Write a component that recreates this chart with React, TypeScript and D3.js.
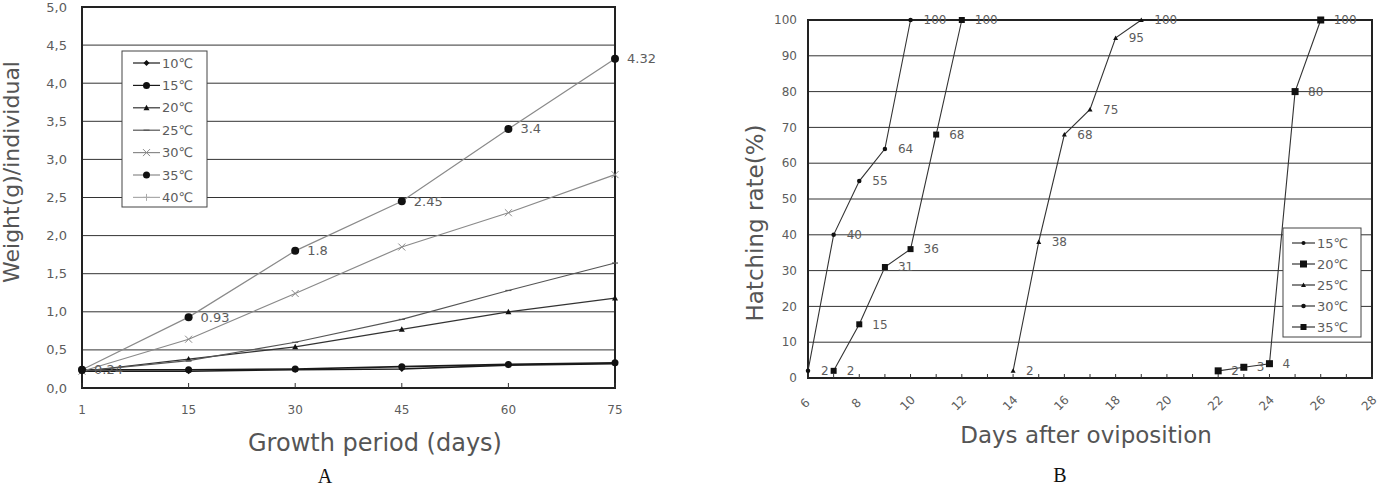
import React from 'react'
import * as d3 from 'd3'

// chart A: growth
const growthDays = ['1', '15', '30', '45', '60', '75']
const w10 = [0.22, 0.22, 0.24, 0.25, 0.30, 0.32]
const w15 = [0.24, 0.24, 0.25, 0.28, 0.31, 0.33]
const w20 = [0.22, 0.38, 0.54, 0.77, 1.0, 1.18]
const w25 = [0.22, 0.36, 0.60, 0.90, 1.28, 1.64]
const w30 = [0.22, 0.64, 1.24, 1.85, 2.30, 2.80]
const w35 = [0.24, 0.93, 1.8, 2.45, 3.4, 4.32]
const w40: number[] = []
const weightTicks = [0, 0.5, 1, 1.5, 2, 2.5, 3, 3.5, 4, 4.5, 5]

// chart B: hatching
const days30 = [6, 7, 8, 9, 10]
const hatch30 = [2, 40, 55, 64, 100]
const days35 = [7, 8, 9, 10, 11, 12]
const hatch35 = [2, 15, 31, 36, 68, 100]
const days25 = [14, 15, 16, 17, 18, 19]
const hatch25 = [2, 38, 68, 75, 95, 100]
const days20 = [22, 23, 24, 25, 26]
const hatch20 = [2, 3, 4, 80, 100]
const days15: number[] = []
const hatch15: number[] = []
const hatchTicks = [0, 10, 20, 30, 40, 50, 60, 70, 80, 90, 100]
const dayTicks = d3.range(6, 29)

const FONT = '"DejaVu Sans", "Noto Sans CJK KR", sans-serif'
const GREY = '#5c5c5c'

type Mk = 'diamond' | 'dot' | 'triangle' | 'dash' | 'x' | 'plus' | 'square' | 'none'

function Marker({ type, x, y, size, color }: { type: Mk; x: number; y: number; size: number; color: string }) {
  const s = size / 2
  if (type === 'dot') return <circle cx={x} cy={y} r={s} fill={color} />
  if (type === 'diamond') return <path d={`M${x},${y - s}L${x + s},${y}L${x},${y + s}L${x - s},${y}Z`} fill={color} />
  if (type === 'triangle') return <path d={`M${x},${y - s}L${x + s},${y + s * 0.8}L${x - s},${y + s * 0.8}Z`} fill={color} />
  if (type === 'square') return <rect x={x - s} y={y - s} width={size} height={size} fill={color} />
  if (type === 'dash') return <path d={`M${x - s},${y}L${x + s},${y}`} stroke={color} strokeWidth={1.2} />
  if (type === 'x') return <path d={`M${x - s},${y - s}L${x + s},${y + s}M${x - s},${y + s}L${x + s},${y - s}`} stroke={color} strokeWidth={1} />
  if (type === 'plus') return <path d={`M${x - s},${y}L${x + s},${y}M${x},${y - s}L${x},${y + s}`} stroke={color} strokeWidth={1} />
  return null
}

function ChartA() {
  const left = 82, right = 615, top = 7, bottom = 388
  const x = d3.scalePoint<string>().domain(growthDays).range([left, right])
  const y = d3.scaleLinear().domain([0, 5]).range([bottom, top])
  const series = [
    { name: '10℃', vals: w10, line: '#1a1a1a', mk: 'diamond' as Mk, mc: '#111', ms: 6, lw: 1.6 },
    { name: '15℃', vals: w15, line: '#1a1a1a', mk: 'dot' as Mk, mc: '#111', ms: 7, lw: 1.6 },
    { name: '20℃', vals: w20, line: '#333', mk: 'triangle' as Mk, mc: '#111', ms: 6, lw: 1.2 },
    { name: '25℃', vals: w25, line: '#555', mk: 'dash' as Mk, mc: '#555', ms: 6, lw: 1.2 },
    { name: '30℃', vals: w30, line: '#8a8a8a', mk: 'x' as Mk, mc: '#8a8a8a', ms: 7, lw: 1.2 },
    { name: '35℃', vals: w35, line: '#8a8a8a', mk: 'dot' as Mk, mc: '#111', ms: 8, lw: 1.2 },
    { name: '40℃', vals: w40, line: '#aaa', mk: 'plus' as Mk, mc: '#aaa', ms: 7, lw: 1.2 },
  ]
  const line = d3.line<number>().x((_, i) => x(growthDays[i]) as number).y(d => y(d))
  return (
    <g fontFamily={FONT}>
      {weightTicks.map(t => (
        <g key={t}>
          <line x1={left} x2={right} y1={y(t)} y2={y(t)} stroke="#333" strokeWidth={1} />
          <text x={left - 15} y={y(t)} dy="0.35em" textAnchor="end" fontSize={13} fill={GREY}>
            {t.toFixed(1).replace('.', ',')}
          </text>
        </g>
      ))}
      <rect x={left} y={top} width={right - left} height={bottom - top} fill="none" stroke="#222" strokeWidth={2} />
      {growthDays.map(d => (
        <g key={d}>
          <line x1={x(d)} x2={x(d)} y1={bottom} y2={bottom - 5} stroke="#333" />
          <text x={x(d)} y={410} dy="0.35em" textAnchor="middle" fontSize={12} fill={GREY}>{d}</text>
        </g>
      ))}
      {series.map(s => (
        <g key={s.name}>
          <path d={line(s.vals) || ''} fill="none" stroke={s.line} strokeWidth={s.lw} />
          {s.vals.map((v, i) => (
            <Marker key={i} type={s.mk} x={x(growthDays[i]) as number} y={y(v)} size={s.ms} color={s.mc} />
          ))}
        </g>
      ))}
      {w35.map((v, i) => (
        <text key={i} x={(x(growthDays[i]) as number) + 12} y={y(v)} dy="0.35em" fontSize={13} fill={GREY}>{String(v)}</text>
      ))}
      <rect x={122} y={51} width={85} height={156} fill="#fff" stroke="#444" strokeWidth={1} />
      {series.map((s, i) => {
        const ly = 63 + i * 22.4
        return (
          <g key={s.name}>
            <line x1={133} x2={160} y1={ly} y2={ly} stroke={s.line} strokeWidth={1.2} />
            <Marker type={s.mk} x={146.5} y={ly} size={Math.min(s.ms, 7)} color={s.mc} />
            <text x={162} y={ly} dy="0.35em" fontSize={13} fill={GREY}>{s.name}</text>
          </g>
        )
      })}
      <text transform="translate(19,172) rotate(-90)" textAnchor="middle" fontSize={22} fill="#555">Weight(g)/individual</text>
      <text x={375} y={451} textAnchor="middle" fontSize={24} fill="#555">Growth period (days)</text>
      <text x={325} y={483} textAnchor="middle" fontSize={20} fontFamily='"Liberation Serif", serif' fill="#111">A</text>
    </g>
  )
}

function ChartB() {
  const left = 808, right = 1372, top = 20, bottom = 378
  const x = d3.scaleLinear().domain([6, 28]).range([left, right])
  const y = d3.scaleLinear().domain([0, 100]).range([bottom, top])
  const series = [
    { name: '15℃', xs: days15, vals: hatch15, mk: 'dot' as Mk, ms: 4 },
    { name: '20℃', xs: days20, vals: hatch20, mk: 'square' as Mk, ms: 7 },
    { name: '25℃', xs: days25, vals: hatch25, mk: 'triangle' as Mk, ms: 5 },
    { name: '30℃', xs: days30, vals: hatch30, mk: 'dot' as Mk, ms: 4.5 },
    { name: '35℃', xs: days35, vals: hatch35, mk: 'square' as Mk, ms: 6 },
  ]
  return (
    <g fontFamily={FONT}>
      {hatchTicks.map(t => (
        <g key={t}>
          <line x1={left} x2={right} y1={y(t)} y2={y(t)} stroke="#333" strokeWidth={1} />
          <text x={left - 11} y={y(t)} dy="0.35em" textAnchor="end" fontSize={12} fill={GREY}>{t}</text>
        </g>
      ))}
      <rect x={left} y={top} width={right - left} height={bottom - top} fill="none" stroke="#222" strokeWidth={2} />
      {dayTicks.map(d => (
        <g key={d}>
          <line x1={x(d)} x2={x(d)} y1={bottom} y2={bottom - 4} stroke="#333" />
          {d % 2 === 0 && (
            <g transform={`translate(${x(d) - 3},403) rotate(-45)`}>
              <text dy="0.35em" textAnchor="middle" fontSize={12} fill={GREY}>{d}</text>
            </g>
          )}
        </g>
      ))}
      {series.map(s => {
        const line = d3.line<number>().x((_, i) => x(s.xs[i])).y(d => y(d))
        return (
          <g key={s.name}>
            <path d={line(s.vals) || ''} fill="none" stroke="#333" strokeWidth={1.1} />
            {s.vals.map((v, i) => (
              <g key={i}>
                <Marker type={s.mk} x={x(s.xs[i])} y={y(v)} size={s.ms} color="#111" />
                <text x={x(s.xs[i]) + 13} y={y(v)} dy="0.35em" fontSize={12} fill={GREY}>{v}</text>
              </g>
            ))}
          </g>
        )
      })}
      <rect x={1283} y={228} width={78} height={109} fill="#fff" stroke="#444" strokeWidth={1} />
      {series.map((s, i) => {
        const ly = 243 + i * 21
        return (
          <g key={s.name}>
            <line x1={1292} x2={1315} y1={ly} y2={ly} stroke="#222" strokeWidth={1.1} />
            <Marker type={s.mk} x={1303.5} y={ly} size={s.ms} color="#111" />
            <text x={1317} y={ly} dy="0.35em" fontSize={13} fill={GREY}>{s.name}</text>
          </g>
        )
      })}
      <text transform="translate(763,223) rotate(-90)" textAnchor="middle" fontSize={23} fill="#555">Hatching rate(%)</text>
      <text x={1086} y={443} textAnchor="middle" fontSize={23} fill="#555">Days after oviposition</text>
      <text x={1060} y={482} textAnchor="middle" fontSize={20} fontFamily='"Liberation Serif", serif' fill="#111">B</text>
    </g>
  )
}

export default function App() {
  return (
    <svg width={1379} height={488} style={{ position: 'absolute', left: 0, top: 0, background: '#fff' }}>
      <rect width={1379} height={488} fill="#fff" />
      <ChartA />
      <ChartB />
    </svg>
  )
}
